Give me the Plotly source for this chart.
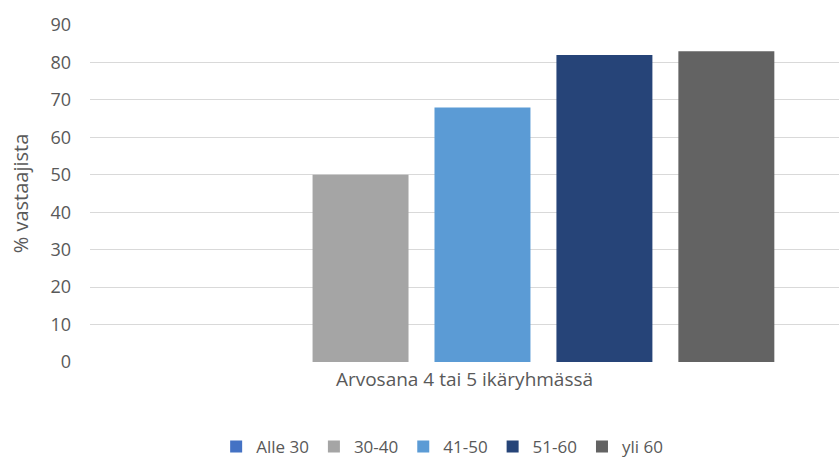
import plotly.graph_objects as go

category = ["Arvosana 4 tai 5 ikäryhmässä"]
series_names = ["Alle 30", "30-40", "41-50", "51-60", "yli 60"]
series_values = [0, 50, 68, 82, 83]
colors = ["#4472C4", "#A5A5A5", "#5B9BD5", "#264478", "#636363"]
y_ticks = [0, 10, 20, 30, 40, 50, 60, 70, 80, 90]

fig = go.Figure()
for name, val, col in zip(series_names, series_values, colors):
    fig.add_trace(go.Bar(
        x=category, y=[val], name=name,
        marker=dict(color=col, line=dict(width=0)),
    ))

fig.update_layout(
    width=839, height=459,
    margin=dict(l=90, r=0, t=25, b=97, autoexpand=False),
    paper_bgcolor="white", plot_bgcolor="white",
    barmode="group", bargap=0.186, bargroupgap=0.213,
    font=dict(family="Open Sans", color="#595959", size=17),
    showlegend=True,
    legend=dict(orientation="h", xref="container", x=0.527, xanchor="center",
                yref="container", y=0.026, yanchor="middle",
                font=dict(size=17, color="#595959"), itemwidth=30,
                traceorder="normal"),
    xaxis=dict(
        type="category", range=[-0.524, 0.476], automargin=False,
        showticklabels=False, showgrid=False, showline=False, ticks="",
        title=dict(text=category[0], font=dict(size=19, color="#595959"), standoff=10),
    ),
    yaxis=dict(
        range=[0, 90], tickvals=y_ticks, showgrid=True, gridcolor="#D9D9D9",
        gridwidth=1, zeroline=False, showline=False, ticks="", automargin=False,
        tickfont=dict(size=18, color="#595959"), ticklabelstandoff=18,
        title=dict(text="% vastaajista", font=dict(size=20, color="#595959"), standoff=16),
    ),
)

fig.write_html("out.html", config={"displayModeBar": False},
               post_script="document.body.style.margin='0';")
